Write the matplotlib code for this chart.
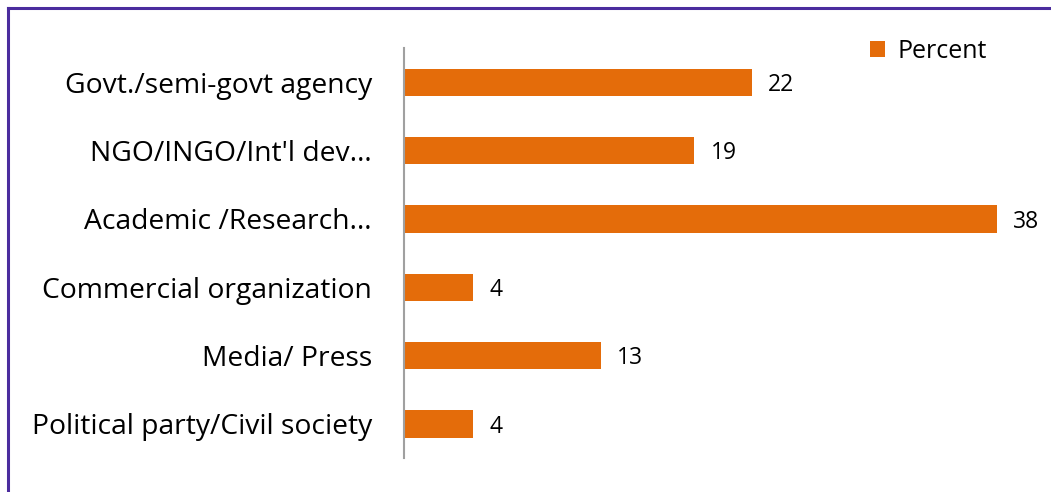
"""
Horizontal bar chart of respondents by organization type
"""

import matplotlib.pyplot as plt
from matplotlib.lines import Line2D

categories = ['Govt./semi-govt agency', "NGO/INGO/Int'l dev\u2026", 'Academic /Research\u2026',
              'Commercial organization', 'Media/ Press', 'Political party/Civil society']
percent = [22.3, 18.6, 38.0, 4.4, 12.6, 4.4]

ORANGE = '#E46C0A'


def make_chart():
    plt.rcParams['font.family'] = ['Open Sans', 'DejaVu Sans']
    fig = plt.figure(figsize=(10.51, 4.92), dpi=100)
    ax = fig.add_axes([404 / 1051, 1 - 458 / 492, (1020 - 404) / 1051, 410 / 492])

    y = list(range(len(categories)))
    ax.barh(y, percent, height=0.4, color=ORANGE, label='Percent')
    for yi, v in zip(y, percent):
        ax.text(v + 1.05, yi + 0.04, f'{v:.0f}', va='center', ha='left', fontsize=16.5)

    ax.set_ylim(len(categories) - 0.5, -0.5)
    ax.set_xlim(0, (1020 - 404) / 15.6)
    ax.set_yticks(y)
    ax.set_yticklabels(categories, fontsize=20.3)
    ax.tick_params(axis='y', length=0, pad=23)
    ax.set_xticks([])
    for s in ['top', 'right', 'bottom']:
        ax.spines[s].set_visible(False)
    ax.spines['left'].set_color('#A0A0A0')
    ax.spines['left'].set_linewidth(1.5)

    ax.legend(loc='upper left', bbox_to_anchor=((870 - 404) / 616, (458 - 39) / 410),
              frameon=False, fontsize=18, handlelength=0.6, handleheight=0.6,
              handletextpad=0.5, borderaxespad=0, borderpad=0)

    # purple frame (top and left only, the rest is cropped)
    fig.add_artist(Line2D([7.5 / 1051, 1], [1 - 7.5 / 492, 1 - 7.5 / 492],
                          color='#4B2C9E', lw=2.2, transform=fig.transFigure))
    fig.add_artist(Line2D([7.5 / 1051, 7.5 / 1051], [0, 1 - 7.5 / 492],
                          color='#4B2C9E', lw=2.2, transform=fig.transFigure))

    fig.savefig('out.png', dpi=100)


if __name__ == "__main__":
    make_chart()
